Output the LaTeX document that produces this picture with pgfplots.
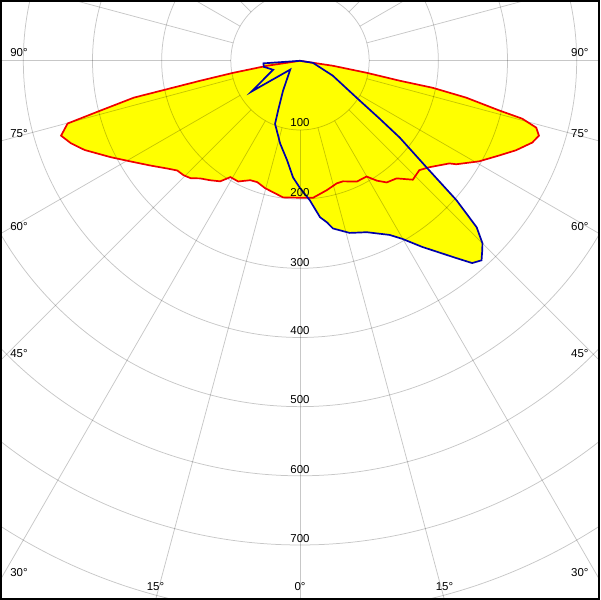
\documentclass[border=0pt]{standalone}
\usepackage{fontspec}
\setmainfont{Liberation Sans}
\usepackage{pgfplots}
\usepackage{pgfplotstable}
\pgfplotsset{compat=1.18}
\definecolor{cblue}{RGB}{0,0,170}
\definecolor{cred}{RGB}{240,0,0}
\definecolor{cyel}{RGB}{255,255,0}
\pgfplotstableread{
t r
-90 0
-81.4 48
-79.8 98
-78.7 147
-77.5 246
-76 297
-74.9 348
-72.6 362
-70.2 352
-67.5 337
-63 307
-59.3 285
-55 264
-50.9 247
-48.2 238
-45.5 236
-43 232
-40.3 223
-36.9 216
-33.5 209
-30.9 196
-27.1 196
-22.6 187
-19.4 186
-15.3 191
-11.6 194
-7.1 199
-2.9 198
0 198
5.4 199
11.7 191
16.7 185
19.6 185
25.2 193
29.9 193
32.7 206
35.5 216
39.4 220
43.5 237
47.5 234
50.5 242
55.5 262
56.5 271
60.7 297
64.6 319
67.5 338
70.6 356
72.6 362
74.2 355
75.4 332
76 297
77.5 246
78.5 196
78.7 147
79.8 98
81.4 48
90 0
}\redtab
\pgfplotstableread{
t r
-90 0
-86 53
-80.5 53
-71.6 41
-57.6 83
-48 19
-29.5 50
-23.7 79
-21.6 98
-13.5 123
-7.4 145
-3.4 169
0 184
4 202
7.3 228
9.5 237
11.1 247
16.1 259
21.3 266
27.2 283
29.9 297
33.3 322
38.4 364
40.4 384
42.3 390
43.9 380
45 373
46.7 351
48.3 303
49.9 239
52.4 182
54 142
56.3 104
59.2 79
65.6 52
81 19
90 0
}\bluetab
\begin{document}
\begin{tikzpicture}
\begin{axis}[
  scale only axis, width=600pt, height=600pt,
  xmin=-432.28, xmax=432.28, ymin=-778.1, ymax=86.46,
  xtick=\empty, ytick=\empty,
  axis line style={line width=2pt, black},
  clip=true,
]
\addplot[fill=cyel, draw=none] table[x expr={\thisrow{r}*sin(\thisrow{t})}, y expr={-\thisrow{r}*cos(\thisrow{t})}] {\redtab};
\addplot[fill=cyel, draw=none] table[x expr={\thisrow{r}*sin(\thisrow{t})}, y expr={-\thisrow{r}*cos(\thisrow{t})}] {\bluetab};
\pgfplotsinvokeforeach{100,200,300,400,500,600,700,800,900}{
  \draw[black, opacity=0.22, line width=0.75pt] (axis cs:0,0) circle[radius=#1];
}
\pgfplotsinvokeforeach{0,15,...,345}{
  \draw[black, opacity=0.22, line width=0.75pt] (axis cs:0,0) ++(#1:69.4pt) -- ++(#1:900pt);
}
\addplot[cred, line width=1.7pt] table[x expr={\thisrow{r}*sin(\thisrow{t})}, y expr={-\thisrow{r}*cos(\thisrow{t})}] {\redtab};
\addplot[cblue, line width=1.7pt] table[x expr={\thisrow{r}*sin(\thisrow{t})}, y expr={-\thisrow{r}*cos(\thisrow{t})}] {\bluetab};
\begin{scope}[every node/.style={font=\fontsize{11.5}{13}\selectfont, inner sep=0pt}]
\node at (rel axis cs:0.030,0.9133) {90°};
\node at (rel axis cs:0.030,0.7783) {75°};
\node at (rel axis cs:0.030,0.6233) {60°};
\node at (rel axis cs:0.030,0.4100) {45°};
\node at (rel axis cs:0.030,0.0450) {30°};
\node at (rel axis cs:0.968,0.9133) {90°};
\node at (rel axis cs:0.968,0.7783) {75°};
\node at (rel axis cs:0.968,0.6233) {60°};
\node at (rel axis cs:0.968,0.4100) {45°};
\node at (rel axis cs:0.968,0.0450) {30°};
\node at (rel axis cs:0.2583,0.0200) {15°};
\node at (rel axis cs:0.5,0.0200) {0°};
\node at (rel axis cs:0.7417,0.0200) {15°};
\node at (rel axis cs:0.5,0.7967) {100};
\node at (rel axis cs:0.5,0.6800) {200};
\node at (rel axis cs:0.5,0.5633) {300};
\node at (rel axis cs:0.5,0.4483) {400};
\node at (rel axis cs:0.5,0.3333) {500};
\node at (rel axis cs:0.5,0.2167) {600};
\node at (rel axis cs:0.5,0.1017) {700};
\end{scope}
\end{axis}
\end{tikzpicture}
\end{document}
